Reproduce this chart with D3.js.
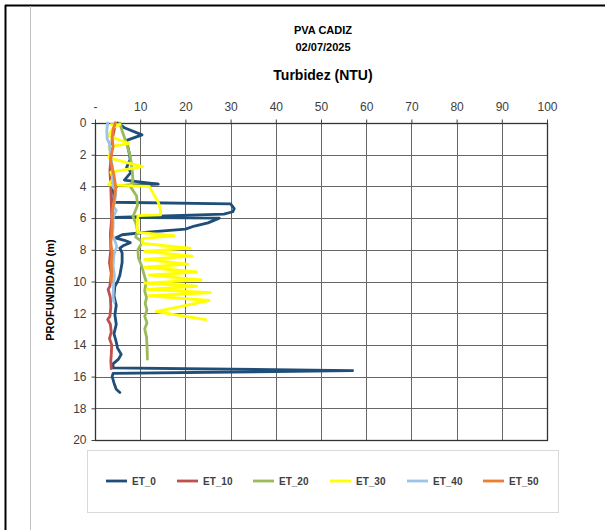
<!DOCTYPE html>
<html><head><meta charset="utf-8">
<script src="https://cdn.jsdelivr.net/npm/d3@7"></script>
<style>body{margin:0;background:#fff;}svg{display:block;font-family:"Liberation Sans",Arial,sans-serif;}</style>
</head><body><svg id="c" width="605" height="530"></svg>
<script>
// ---- data ----
const seriesNames = ["ET_0","ET_10","ET_20","ET_30","ET_40","ET_50"];
const seriesColors = ["#1f4e79","#c0504d","#9bbb59","#ffff00","#9dc3e6","#ed7d31"];
const xTickValues = [0,10,20,30,40,50,60,70,80,90,100];
const xTickLabels = ["-","10","20","30","40","50","60","70","80","90","100"];
const yTickValues = [0,2,4,6,8,10,12,14,16,18,20];

const et0Depth = [0,0.3,0.75,1.1,1.4,1.8,2.3,2.8,3.1,3.6,3.85,3.95,4.2,4.6,5.0,5.1,5.4,5.6,5.75,5.95,6.0,6.3,6.5,6.7,6.9,7.05,7.25,7.4,7.55,7.75,7.9,8.2,8.8,9.6,10.0,10.3,10.9,11.5,12.1,12.7,13.3,13.7,14.2,14.6,14.9,15.2,15.45,15.62,15.8,16.0,16.4,16.8,17.0];
const et0Ntu   = [5,6.5,10.4,7,7.2,7.5,7.8,7,8,6.5,14,5,4,4.2,4,30,30.8,30.5,28.5,4.5,27.5,25,22,20,11,6,4.5,6.5,7.8,6.2,5.5,6,6,5.5,5,4.4,4.2,4.7,4.4,4.7,4.2,4.6,5,5.8,5.2,4,4,57,4,3.8,4.2,4.7,5.5];

const et10Depth = [0,0.5,1.0,2.0,3.0,4.0,5.0,6.0,7.0,8.0,8.8,9.5,10.3,10.5,11.0,11.6,12.2,12.4,12.7,13.2,13.6,14.0,14.6,15.0,15.5];
const et10Ntu   = [4.5,4.2,3.8,3.6,3.3,3.5,3.6,3.7,3.4,3.5,3.2,3.6,3.3,2.9,3.4,3.5,3.3,2.8,3.4,3.6,3.2,3.7,3.6,3.5,3.6];

const et20Depth = [0,0.5,0.9,1.5,2.1,2.9,3.6,4.0,4.6,5.2,5.9,6.3,6.8,7.2,7.5,8.0,8.5,9.0,9.5,10.0,10.6,11.0,11.4,11.8,12.2,12.6,13.0,13.5,14.0,14.9];
const et20Ntu   = [5.5,6,6.5,7.2,7.8,8.2,8.4,7.8,9.2,9.4,8.4,9.0,9.4,9.0,10.5,9.5,9.6,10.3,10.8,11.3,11.0,11.4,11.1,11.5,11.0,11.5,11.0,11.4,11.5,11.6];

const et30Depth = [0.1,0.1,0.3,0.8,1.3,1.5,1.8,2.2,2.75,3.1,3.5,3.9,4.0,4.5,5.0,5.5,5.8,5.85,6.5,6.9,7.1,7.3,7.6,7.9,8.1,8.4,8.6,8.9,9.1,9.4,9.6,9.9,10.1,10.3,10.5,10.7,10.9,11.2,11.9,12.4];
const et30Ntu   = [3.5,5.5,4,3,7.5,3,3.5,3,10.5,3.5,4,3,12,13,14,14.5,14.5,9.5,9.3,9.5,17.5,10.5,10.5,21,11,21.5,11,20.5,11,22.5,12,23.5,11,22.5,11.5,25.5,12,25.2,13.5,24.5];

const et40Depth = [0,0.5,1.0,1.3,2.0,2.7,3.4,4.0,4.2,4.5,5.0,5.3,5.5,6.0,6.6,7.0,7.5,7.8,8.3,9.0,9.6,10.2,11.0,11.3];
const et40Ntu   = [2.8,2.6,2.7,3.2,3.4,3.8,3.9,4.0,4.4,4.6,4.3,4.1,4.7,4.0,4.0,3.8,4.5,4.8,4.2,4.0,4.3,4.1,4.0,4.2];

const et50Depth = [0,0.4,0.9,1.5,2.3,3.3,4.1,4.7,5.5,6.3,7.0,7.6,8.2,8.8,9.4,10.0];
const et50Ntu   = [4.5,4.0,3.8,4.0,3.4,4.2,4.6,4.3,3.9,3.8,3.7,3.5,3.8,3.6,3.7,3.6];

const depthSets = [et0Depth,et10Depth,et20Depth,et30Depth,et40Depth,et50Depth];
const ntuSets = [et0Ntu,et10Ntu,et20Ntu,et30Ntu,et40Ntu,et50Ntu];

// ---- drawing ----
const svg = d3.select("#c");
const L = 95, R = 547, T = 123, B = 440;
const x = d3.scaleLinear().domain([0,100]).range([L,R]);
const y = d3.scaleLinear().domain([0,20]).range([T,B]);

// outer frame
svg.append("line").attr("x1",5).attr("x2",605).attr("y1",5.5).attr("y2",5.5).attr("stroke","#000").attr("stroke-width",2);
svg.append("line").attr("x1",5.5).attr("x2",5.5).attr("y1",5).attr("y2",530).attr("stroke","#000").attr("stroke-width",2);
svg.append("line").attr("x1",30.5).attr("x2",30.5).attr("y1",6).attr("y2",530).attr("stroke","#bfbfbf").attr("stroke-width",1);

// titles
svg.append("text").attr("x",323).attr("y",34).attr("text-anchor","middle").attr("font-size",11).attr("font-weight","bold").attr("fill","#000").text("PVA CADIZ");
svg.append("text").attr("x",323).attr("y",51).attr("text-anchor","middle").attr("font-size",11).attr("font-weight","bold").attr("fill","#000").text("02/07/2025");
svg.append("text").attr("x",323).attr("y",80).attr("text-anchor","middle").attr("font-size",14).attr("font-weight","bold").attr("fill","#000").text("Turbidez (NTU)");

// gridlines
const g = svg.append("g");
g.selectAll(".vg").data(xTickValues).join("line")
  .attr("x1",d=>Math.round(x(d))+0.5).attr("x2",d=>Math.round(x(d))+0.5)
  .attr("y1",T).attr("y2",B).attr("stroke","#666").attr("stroke-width",1);
g.selectAll(".hg").data(yTickValues).join("line")
  .attr("y1",d=>Math.round(y(d))+0.5).attr("y2",d=>Math.round(y(d))+0.5)
  .attr("x1",L).attr("x2",R).attr("stroke","#666").attr("stroke-width",1);

// axes
const xAxis = d3.axisTop(x).tickValues(xTickValues).tickFormat((d,i)=>xTickLabels[i]).tickSize(4).tickPadding(9);
const ax = svg.append("g").attr("transform",`translate(0,${Math.round(T)+0.5})`).call(xAxis);
ax.select(".domain").remove();
ax.selectAll("line").attr("stroke","#404040");
ax.selectAll("text").attr("font-size",12).attr("fill","#404040").attr("font-family","'Liberation Sans',Arial,sans-serif");

const yAxis = d3.axisLeft(y).tickValues(yTickValues).tickSize(4).tickPadding(5);
const ay = svg.append("g").attr("transform",`translate(${Math.round(L)+0.5},0)`).call(yAxis);
ay.select(".domain").remove();
ay.selectAll("line").attr("stroke","#404040");
ay.selectAll("text").attr("font-size",12).attr("fill","#404040").attr("font-family","'Liberation Sans',Arial,sans-serif");

// plot border
svg.append("rect").attr("x",Math.round(L)+0.5).attr("y",Math.round(T)+0.5).attr("width",Math.round(R)-Math.round(L)).attr("height",Math.round(B)-Math.round(T))
  .attr("fill","none").attr("stroke","#333").attr("stroke-width",1.3);

// axis title
svg.append("text").attr("transform","translate(54,290) rotate(-90)").attr("text-anchor","middle")
  .attr("font-size",11).attr("font-weight","bold").attr("fill","#000").text("PROFUNDIDAD (m)");

// series
const line = d3.line().x(p=>x(p[0])).y(p=>y(p[1])).curve(d3.curveLinear);
seriesNames.forEach((name,i)=>{
  const pts = ntuSets[i].map((v,k)=>[v,depthSets[i][k]]);
  svg.append("path").attr("d",line(pts)).attr("fill","none")
    .attr("stroke",seriesColors[i]).attr("stroke-width",2.8)
    .attr("stroke-linejoin","round").attr("stroke-linecap","round");
});

// legend
svg.append("rect").attr("x",87.5).attr("y",450.5).attr("width",471).attr("height",62)
  .attr("fill","#fff").attr("stroke","#d9d9d9").attr("stroke-width",1);
const legX = [106,177,253,330,407,483];
seriesNames.forEach((name,i)=>{
  svg.append("line").attr("x1",legX[i]).attr("x2",legX[i]+21).attr("y1",481).attr("y2",481)
    .attr("stroke",seriesColors[i]).attr("stroke-width",2.8);
  svg.append("text").attr("x",legX[i]+26).attr("y",485).attr("font-size",10).attr("font-weight","bold")
    .attr("fill","#404040").text(name);
});
</script>
</body></html>
